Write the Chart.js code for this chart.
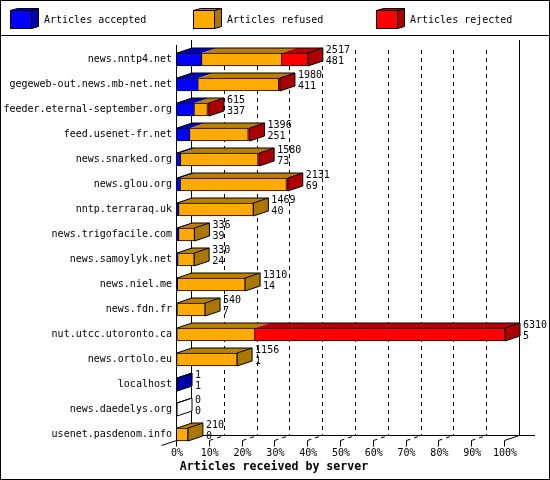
<!DOCTYPE html>
<html>
<head>
<meta charset="utf-8">
<title>Articles received by server</title>
<style>
	html, body { margin: 0; padding: 0; background: #fff; }
	canvas { display: block; }
</style>
<script src="https://cdn.jsdelivr.net/npm/chart.js@4/dist/chart.umd.min.js"></script>
</head>
<body>
<canvas id="serverChart" width="550" height="480"></canvas>
<script>
const servers = ['news.nntp4.net', 'gegeweb-out.news.mb-net.net', 'feeder.eternal-september.org', 'feed.usenet-fr.net',
	'news.snarked.org', 'news.glou.org', 'nntp.terraraq.uk', 'news.trigofacile.com', 'news.samoylyk.net', 'news.niel.me',
	'news.fdn.fr', 'nut.utcc.utoronto.ca', 'news.ortolo.eu', 'localhost', 'news.daedelys.org', 'usenet.pasdenom.info'];
const accepted = [481, 411, 337, 251, 73, 69, 40, 39, 24, 14, 7, 5, 1, 1, 0, 0];
const refused = [1536, 1544, 248, 1120, 1487, 2037, 1429, 297, 306, 1296, 533, 1495, 1155, 0, 0, 210];
const rejected = [500, 25, 30, 25, 20, 25, 0, 0, 0, 0, 0, 4810, 0, 0, 0, 0];
const totals = [2517, 1980, 615, 1396, 1580, 2131, 1469, 336, 330, 1310, 540, 6310, 1156, 1, 0, 210];
const seriesNames = ['Articles accepted', 'Articles refused', 'Articles rejected'];
const axisTitle = 'Articles received by server';
const maxTotal = 6310;

const textFont = '10px "DejaVu Sans Mono"';
const frontColors = ['#0000ff', '#ffaa00', '#ff0000'];
const topColors = ['#0000bb', '#bb8000', '#bb0000'];
const sideColors = ['#0000aa', '#aa7700', '#aa0000'];
const depthX = 15;
const depthY = 5;

function line(ctx, x1, y1, x2, y2) {
	ctx.beginPath();
	ctx.moveTo(x1, y1);
	ctx.lineTo(x2, y2);
	ctx.stroke();
}

function poly(ctx, pts, fill) {
	ctx.beginPath();
	pts.forEach((p, i) => i ? ctx.lineTo(p[0], p[1]) : ctx.moveTo(p[0], p[1]));
	ctx.closePath();
	if (fill) {
		ctx.fillStyle = fill;
		ctx.fill();
	}
}

// outer frame and the legend row with its little boxes
const framePlugin = {
	id: 'frame',
	beforeDraw(chart) {
		const ctx = chart.ctx;
		ctx.save();
		ctx.fillStyle = '#fff';
		ctx.fillRect(0, 0, 550, 480);
		ctx.strokeStyle = '#000';
		ctx.lineWidth = 1;
		ctx.strokeRect(0.5, 0.5, 549, 479);
		line(ctx, 0, 35.5, 550, 35.5);
		const boxX = [10.5, 193.5, 376.5];
		const textX = [44, 227, 410];
		seriesNames.forEach((name, i) => {
			const x = boxX[i];
			poly(ctx, [[x, 10.5], [x + 7, 8.5], [x + 28, 8.5], [x + 21, 10.5]], topColors[i]);
			ctx.stroke();
			poly(ctx, [[x + 21, 10.5], [x + 28, 8.5], [x + 28, 26.5], [x + 21, 28.5]], sideColors[i]);
			ctx.stroke();
			ctx.fillStyle = frontColors[i];
			ctx.fillRect(x, 10.5, 21, 18);
			ctx.strokeRect(x, 10.5, 21, 18);
			ctx.fillStyle = '#000';
			ctx.font = textFont;
			ctx.textAlign = 'left';
			ctx.textBaseline = 'middle';
			ctx.fillText(name, textX[i], 20);
		});
		ctx.restore();
	}
};

// back wall, floor and the 3D faces of the bars, all placed from the chart's scales
const depthPlugin = {
	id: 'depth',
	beforeDatasetsDraw(chart) {
		const ctx = chart.ctx;
		const xs = chart.scales.x;
		const floorFront = 440.5;
		const floorBack = floorFront - depthY;
		ctx.save();
		ctx.strokeStyle = '#000';
		ctx.lineWidth = 1;
		const left = Math.round(xs.getPixelForValue(0)) - 0.5;
		const right = Math.round(xs.getPixelForValue(maxTotal)) - 0.5;
		// walls
		line(ctx, left, 45, left, floorFront);
		line(ctx, left + depthX, 40, left + depthX, floorBack);
		line(ctx, right + depthX, 40, right + depthX, floorBack);
		line(ctx, left + depthX, floorBack, 535, floorBack);
		line(ctx, left - 15, floorFront + depthY, left + depthX, floorBack);
		line(ctx, right, floorFront, right + depthX, floorBack);
		// dashed gridlines, ticks and floor marks
		for (let v = 0; v <= maxTotal; v += maxTotal / 10) {
			const x = Math.round(xs.getPixelForValue(v)) - 0.5;
			line(ctx, x, floorFront, x, floorFront + 6);
			if (v > 0 && v < maxTotal * 0.99) {
				ctx.setLineDash([4, 4]);
				line(ctx, x + depthX, 50, x + depthX, floorBack);
				line(ctx, x, floorFront, x + depthX, floorBack);
				ctx.setLineDash([]);
			}
		}
		// top and side of each stacked bar
		servers.forEach((name, i) => {
			const bars = chart.data.datasets.map((d, k) => chart.getDatasetMeta(k).data[i]);
			const top = bars[0].y - bars[0].height / 2;
			const bottom = top + bars[0].height;
			let lastFilled = -1;
			bars.forEach((bar, k) => {
				if (Math.abs(bar.x - bar.base) > 0.01 && chart.data.datasets[k].data[i] > 0) {
					lastFilled = k;
					poly(ctx, [[bar.base, top], [bar.x, top], [bar.x + depthX, top - depthY], [bar.base + depthX, top - depthY]], topColors[k]);
				}
			});
			const end = bars[2].x;
			const start = bars[0].base;
			poly(ctx, [[end, top], [end + depthX, top - depthY], [end + depthX, bottom - depthY], [end, bottom]], lastFilled < 0 ? '#fff' : sideColors[lastFilled]);
			ctx.stroke();
			line(ctx, start, top, start + depthX, top - depthY);
			line(ctx, start + depthX, top - depthY, end + depthX, top - depthY);
		});
		ctx.restore();
	},
	afterDatasetsDraw(chart) {
		const ctx = chart.ctx;
		ctx.save();
		ctx.fillStyle = '#000';
		ctx.font = textFont;
		ctx.textAlign = 'left';
		ctx.textBaseline = 'middle';
		servers.forEach((name, i) => {
			const bar = chart.getDatasetMeta(2).data[i];
			ctx.fillText(String(totals[i]), bar.x + depthX + 3, bar.y - 9);
			ctx.fillText(String(accepted[i]), bar.x + depthX + 3, bar.y + 2);
		});
		// axis title is centred on the whole picture, not on the plot
		ctx.font = 'bold 11.6px "DejaVu Sans Mono"';
		ctx.textAlign = 'center';
		ctx.fillText(axisTitle, 274, 467);
		ctx.restore();
	}
};

new Chart(document.getElementById('serverChart').getContext('2d'), {
	type: 'bar',
	data: {
		labels: servers,
		datasets: [accepted, refused, rejected].map((values, i) => ({
			label: seriesNames[i],
			data: values,
			backgroundColor: frontColors[i],
			borderColor: '#000',
			borderWidth: 1,
			borderSkipped: 'start',
			barThickness: 13
		}))
	},
	options: {
		indexAxis: 'y',
		responsive: false,
		animation: false,
		devicePixelRatio: 1,
		layout: { padding: { top: 47, left: 0, right: 45, bottom: 20 } },
		plugins: {
			legend: { display: false },
			tooltip: { enabled: false }
		},
		scales: {
			x: {
				stacked: true,
				min: 0,
				max: maxTotal,
				grid: { display: false, drawTicks: false },
				border: { display: false },
				afterFit(scale) { scale.height = 13; },
				ticks: {
					stepSize: maxTotal / 10,
					padding: 0,
					maxRotation: 0,
					autoSkip: false,
					color: '#000',
					font: { family: 'DejaVu Sans Mono', size: 10 },
					callback: (v) => Math.round(v / maxTotal * 100) + '%'
				}
			},
			y: {
				stacked: true,
				grid: { display: false, drawTicks: false },
				border: { display: false },
				afterFit(scale) { scale.width = 177; },
				ticks: {
					padding: 5,
					autoSkip: false,
					color: '#000',
					font: { family: 'DejaVu Sans Mono', size: 10 }
				}
			}
		}
	},
	plugins: [framePlugin, depthPlugin]
});
</script>
</body>
</html>
